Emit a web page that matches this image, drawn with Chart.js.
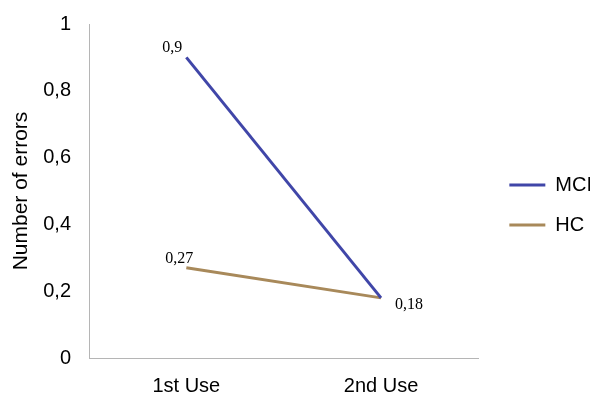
<!DOCTYPE html>
<html>
<head>
<meta charset="utf-8">
<script src="https://cdn.jsdelivr.net/npm/chart.js@4"></script>
<style>
  html, body { margin: 0; padding: 0; background: #fff; }
  #wrap { width: 590px; height: 406px; }
</style>
</head>
<body>
<div id="wrap"><canvas id="graph"></canvas></div>
<script>
const labels = ['1st Use', '2nd Use'];
const mciValues = [0.9, 0.18];
const hcValues = [0.27, 0.18];
const mciLabels = ['0,9', ''];
const hcLabels = ['0,27', '0,18'];

// draws the value labels next to the points
const valueLabels = {
  id: 'valueLabels',
  afterDatasetsDraw(chart) {
    const ctx = chart.ctx;
    ctx.save();
    ctx.font = '16px "Liberation Serif", "DejaVu Serif", serif';
    ctx.fillStyle = '#000';
    ctx.textBaseline = 'alphabetic';
    const sets = [mciLabels, hcLabels];
    sets.forEach(function (txts, di) {
      const meta = chart.getDatasetMeta(di);
      meta.data.forEach(function (pt, i) {
        const t = txts[i];
        if (!t) return;
        if (i === 0) {
          ctx.textAlign = 'right';
          ctx.fillText(t, pt.x + (di === 0 ? -4 : 7), pt.y - 5);
        } else {
          ctx.textAlign = 'left';
          ctx.fillText(t, pt.x + 14, pt.y + 11);
        }
      });
    });
    ctx.restore();
  }
};

// nudge the legend a bit, like in the original
const legendShift = {
  id: 'legendShift',
  afterLayout(chart) {
    const lg = chart.legend;
    if (!lg) return;
    lg.left += 11; lg.right += 11;
    lg.top -= 5; lg.bottom -= 5;
  }
};

const data = {
  labels: labels,
  datasets: [
    {
      label: 'MCI',
      data: mciValues,
      borderColor: '#4046a8',
      backgroundColor: '#4046a8',
      borderWidth: 3,
      pointRadius: 0,
      tension: 0
    },
    {
      label: 'HC',
      data: hcValues,
      borderColor: '#a8895a',
      backgroundColor: '#a8895a',
      borderWidth: 3,
      pointRadius: 0,
      tension: 0
    }
  ]
};

const config = {
  type: 'line',
  data: data,
  plugins: [valueLabels, legendShift],
  options: {
    responsive: true,
    maintainAspectRatio: false,
    animation: false,
    layout: { padding: { top: 6, right: -1, bottom: -8, left: 9 } },
    plugins: {
      tooltip: { enabled: false },
      legend: {
        position: 'right',
        labels: {
          usePointStyle: true,
          pointStyle: 'line',
          pointStyleWidth: 36,
          boxWidth: 36,
          padding: 20,
          color: '#000',
          font: { family: '"Liberation Sans", Arial, sans-serif', size: 20 }
        }
      }
    },
    scales: {
      x: {
        offset: true,
        grid: { display: false, drawTicks: false },
        border: { display: true, color: '#b5b5b5', width: 1 },
        ticks: {
          color: '#000',
          padding: 16,
          font: { family: '"Liberation Sans", Arial, sans-serif', size: 20 }
        }
      },
      y: {
        min: 0,
        max: 1,
        grid: { display: false, drawTicks: false },
        border: { display: true, color: '#b5b5b5', width: 1 },
        ticks: {
          stepSize: 0.2,
          color: '#000',
          padding: 18,
          font: { family: '"Liberation Sans", Arial, sans-serif', size: 20, lineHeight: 0.6 },
          callback: function (v) { return String(+v.toFixed(1)).replace('.', ','); }
        },
        title: {
          display: true,
          text: 'Number of errors',
          color: '#000',
          padding: { top: 0, bottom: -9 },
          font: { family: '"Liberation Sans", Arial, sans-serif', size: 21 }
        }
      }
    }
  }
};

const graph = document.querySelector('#graph');
new Chart(graph, config);
</script>
</body>
</html>
